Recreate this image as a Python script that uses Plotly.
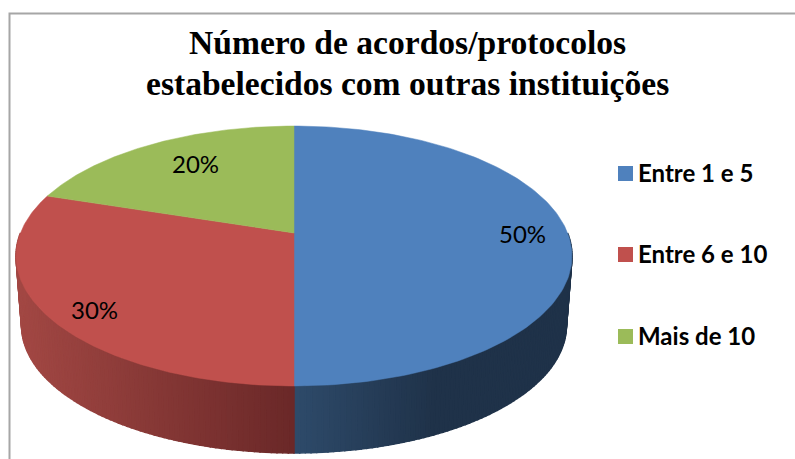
"""Perspective 3D pie chart built from Plotly scatter fills."""

import numpy as np
import plotly.graph_objects as go

WIDTH = 795
HEIGHT = 459

# data
labels = ["Entre 1 e 5", "Entre 6 e 10", "Mais de 10"]
values = [50, 30, 20]
colors = ["#4F81BD", "#C0504D", "#9BBB59"]
title_lines = ["Número de acordos/protocolos", "estabelecidos com outras instituições"]

# anchors, in page pixels
label_xy = [(522, 233.5), (94, 309.5), (195, 163.5)]
legend_x = 625.5
legend_text_x = 635.5
legend_y = [173.5, 254.5, 336.5]
title_y = [42.5, 83.5]

# geometry of the tilted disc, in page pixels
CX, CY = 294, 233
RX, RY = 273.6, 125.9
PERSP = 0.177
WALL_SCALE = 0.98
WALL_DROP = 70

# wall shading, left to right along the front of the pie
red_wall = [(-278, (163, 72, 68)), (0, (106, 40, 40))]
blue_wall = [(0, (46, 74, 106)), (140, (31, 50, 73)), (278, (31, 50, 73))]


def rim(theta, scale=1.0, drop=0.0):
    """Project clockwise-from-top angles (radians) onto the page."""
    u, v = np.sin(theta), np.cos(theta)
    d = 1 + PERSP * v
    return CX + scale * RX * u / d, CY - scale * RY * v / d + drop


def wall_color(x):
    stops = red_wall if x < CX else blue_wall
    xs = [s[0] + CX for s in stops]
    rgb = [np.interp(x, xs, [s[1][i] for s in stops]) for i in range(3)]
    return "rgb({:.0f},{:.0f},{:.0f})".format(*rgb)


def filled(x, y, color, width=0.5):
    return go.Scatter(
        x=x, y=y, mode="lines", fill="toself", fillcolor=color,
        line=dict(color=color, width=width), hoverinfo="skip", showlegend=False,
    )


fig = go.Figure()

# Walls: thin vertical strips along the front rim
edges = np.cumsum([0] + values) / sum(values) * 2 * np.pi
steps = np.radians(np.arange(90, 271, 1.0))
for a, b in zip(steps[:-1], steps[1:]):
    xa, ya = rim(a)
    xb, yb = rim(b)
    xa2, ya2 = rim(a, WALL_SCALE, WALL_DROP)
    xb2, yb2 = rim(b, WALL_SCALE, WALL_DROP)
    fig.add_trace(filled(
        [xa, xb, xb2, xa2, xa], [ya, yb, yb2, ya2, ya],
        wall_color((xa + xb + xa2 + xb2) / 4), width=1.5,
    ))

# Top face of each slice
for start, end, color in zip(edges[:-1], edges[1:], colors):
    theta = np.linspace(start, end, 160)
    x, y = rim(theta)
    fig.add_trace(filled(
        np.r_[CX, x, CX], np.r_[CY, y, CY], color,
    ))

# Legend entries
for name, color, ly in zip(labels, colors, legend_y):
    fig.add_trace(go.Scatter(
        x=[legend_x], y=[ly], mode="markers", showlegend=False, hoverinfo="skip",
        marker=dict(symbol="square", size=15, color=color),
    ))
    fig.add_annotation(
        x=legend_text_x, y=ly - 1, text=name, showarrow=False, xanchor="left",
        font=dict(family="Lato", size=24, color="#000000", weight="bold"),
    )

for value, (lx, ly) in zip(values, label_xy):
    fig.add_annotation(
        x=lx, y=ly, text=f"{value}%", showarrow=False,
        font=dict(family="Lato", size=24, color="#000000"),
    )

for line, ty in zip(title_lines, title_y):
    fig.add_annotation(
        x=407, y=ty, text=line, showarrow=False,
        font=dict(family="Liberation Serif", size=33.6, color="#000000", weight="bold"),
    )

# Chart frame: only the top and left edges fall inside the crop
fig.add_shape(
    type="path", path=f"M 9.5 {HEIGHT} L 9.5 13.5 L {WIDTH} 13.5",
    line=dict(color="#A6A6A6", width=2),
)

fig.update_layout(
    width=WIDTH,
    height=HEIGHT,
    margin=dict(l=0, r=0, t=0, b=0),
    paper_bgcolor="#FFFFFF",
    plot_bgcolor="#FFFFFF",
    showlegend=False,
    xaxis=dict(range=[0, WIDTH], visible=False, fixedrange=True),
    yaxis=dict(range=[HEIGHT, 0], visible=False, fixedrange=True),
)

fig.write_html(
    "out.html",
    config=dict(displayModeBar=False),
    post_script="document.body.style.margin='0';document.body.style.overflow='hidden';",
)
